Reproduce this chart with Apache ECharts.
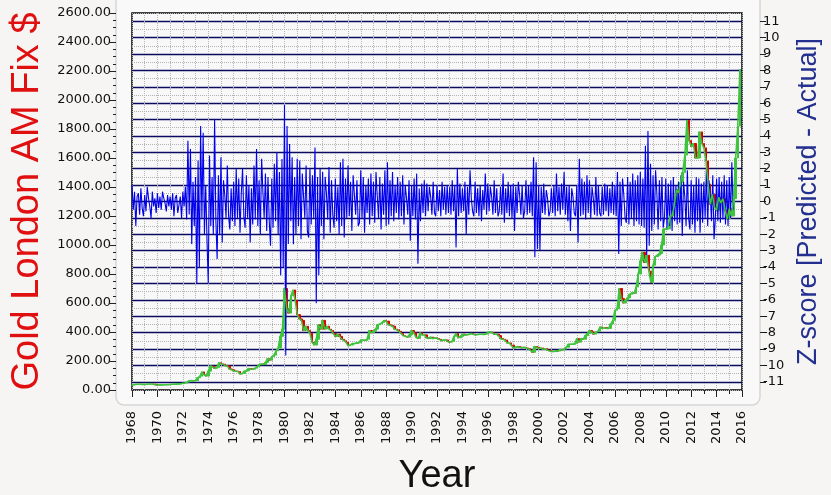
<!DOCTYPE html>
<html>
<head>
<meta charset="utf-8">
<script src="https://cdn.jsdelivr.net/npm/echarts@6/dist/echarts.min.js"></script>
<style>
html, body { margin: 0; padding: 0; background: #f6f5f4; }
#main { width: 831px; height: 495px; }
</style>
</head>
<body>
<div id="main"></div>
<script>
// gold price, 6 readings per year starting 1968.0
var goldStart = 1968;
var goldPerYear = 6;
var gold = [
    35, 37, 39, 39, 39, 38,            // 1968
    38, 40, 41, 41, 40, 36,            // 1969
    35, 35, 35, 36, 36, 37,            // 1970
    38, 39, 40, 41, 42, 43,            // 1971
    46, 48, 54, 64, 65, 63,            // 1972
    65, 84, 95, 125, 105, 96,          // 1973
    130, 165, 160, 150, 155, 188,      // 1974
    180, 178, 167, 165, 145, 140,      // 1975
    131, 130, 127, 110, 114, 130,      // 1976
    132, 148, 145, 143, 150, 160,      // 1977
    173, 180, 176, 190, 215, 205,      // 1978
    230, 240, 270, 290, 370, 420,      // 1979
    700, 560, 530, 650, 690, 620,      // 1980
    520, 490, 480, 410, 440, 410,      // 1981
    390, 330, 310, 350, 450, 420,      // 1982
    480, 420, 440, 420, 410, 390,      // 1983
    370, 385, 370, 350, 340, 330,      // 1984
    305, 310, 320, 320, 325, 325,      // 1985
    345, 345, 342, 350, 410, 395,      // 1986
    405, 420, 450, 455, 465, 480,      // 1987
    475, 450, 445, 440, 420, 415,      // 1988
    405, 390, 375, 370, 365, 380,      // 1989
    410, 395, 365, 355, 395, 380,      // 1990
    380, 360, 355, 365, 355, 360,      // 1991
    355, 350, 340, 345, 345, 335,      // 1992
    330, 335, 370, 390, 360, 370,      // 1993
    385, 380, 380, 385, 390, 385,      // 1994
    380, 382, 385, 385, 383, 385,      // 1995
    400, 400, 395, 385, 385, 375,      // 1996
    355, 350, 345, 325, 325, 310,      // 1997
    290, 295, 300, 295, 290, 295,      // 1998
    290, 285, 275, 260, 300, 295,      // 1999
    285, 290, 280, 285, 275, 270,      // 2000
    265, 265, 270, 268, 280, 275,      // 2001
    282, 295, 315, 315, 315, 320,      // 2002
    355, 330, 355, 350, 375, 390,      // 2003
    410, 400, 385, 400, 405, 435,      // 2004
    425, 430, 425, 425, 455, 480,      // 2005
    550, 560, 700, 630, 600, 620,      // 2006
    635, 660, 670, 665, 710, 800,      // 2007
    890, 950, 880, 930, 820, 740,      // 2008
    860, 920, 930, 940, 1000, 1110,    // 2009
    1110, 1110, 1200, 1200, 1270, 1380,// 2010
    1360, 1430, 1500, 1620, 1860, 1720,// 2011
    1680, 1700, 1600, 1600, 1780, 1700,// 2012
    1670, 1580, 1420, 1280, 1350, 1260,// 2013
    1240, 1330, 1290, 1320, 1240, 1180,// 2014
    1250, 1200, 1320, 1600, 1820, 2210 // 2015
];

// z-score [predicted - actual], 10 readings per year starting 1968.0
var zStart = 1968;
var zPerYear = 10;
var zScore = [
    1.0, -0.5, 0.6, -1.5, 0.3, 0.5, -0.8, 0.8, -0.4, -0.9,     // 1968
    0.4, -0.6, 0.9, 0.2, -0.3, -1.0, 0.6, -0.3, 0.2, -0.7,     // 1969
    0.5, -0.4, 0.3, -0.5, 0.6, 0.2, -0.1, -0.6, 0.4, -0.3,     // 1970
    0.3, -0.5, 0.5, -0.9, 0.2, 0.4, -0.7, -0.6, 0.3, -1.0,     // 1971
    0.6, -0.3, 0.9, -1.1, 3.7, -0.8, 3.2, -2.6, 1.2, -1.5,     // 1972
    1.5, -5.0, 2.5, -4.0, 4.6, -1.0, 4.2, -2.0, 1.0, -2.3,     // 1973
    -5.0, 2.8, -1.5, 1.5, -2.0, 5.0, -1.2, -3.5, 1.6, -2.0,    // 1974
    2.7, -2.5, 1.3, 0.4, -1.0, 2.2, -0.9, -1.7, 0.8, -1.2,     // 1975
    1.2, -1.5, 2.0, -1.0, 1.4, -1.9, 0.5, 2.0, -0.9, -1.6,     // 1976
    1.6, -1.0, 1.0, -2.5, 0.8, -1.4, 2.2, -1.1, 3.2, -1.5,     // 1977
    1.3, -2.0, 2.6, 0.6, -1.0, 1.7, -1.8, 1.5, -1.2, -2.7,     // 1978
    1.4, -1.6, 2.3, -1.2, 3.0, -2.0, 1.8, -4.5, 2.6, -4.0,     // 1979
    5.9, -9.4, 4.6, -2.6, 3.5, -1.2, 2.7, -2.6, 1.5, -2.0,     // 1980
    2.6, -1.5, 2.5, -2.3, 1.7, 0.3, -1.0, 2.2, -1.8, -2.2,     // 1981
    2.0, -1.4, 1.6, -1.0, 3.3, -6.2, 1.5, -4.5, 2.0, -1.5,     // 1982
    1.8, -2.3, 1.5, 0.5, -1.1, 2.1, -1.9, 1.3, -0.8, -1.6,     // 1983
    1.4, -1.2, 0.9, -2.0, 2.4, -1.5, 2.6, -2.2, 1.4, -1.0,     // 1984
    2.2, -0.9, 1.2, -1.8, 1.6, 0.4, -0.8, 1.3, -1.5, -1.3,     // 1985
    1.9, -1.0, 1.5, -1.9, 1.0, -0.7, 1.4, -1.4, 1.7, -0.9,     // 1986
    1.2, -1.3, 1.8, 0.3, -1.0, 1.5, -1.7, 1.1, -0.8, 1.9,      // 1987
    -1.5, 2.4, -1.4, 1.3, -0.9, 1.8, -1.2, 1.0, -0.7, 1.5,     // 1988
    -1.1, 1.2, -0.9, 1.6, -1.4, 1.0, 0.2, -0.8, 1.3, -2.4,     // 1989
    1.0, -0.9, 1.4, -1.1, 1.7, -3.8, 0.8, -1.2, 1.1, -0.7,     // 1990
    1.3, -0.9, 1.1, -0.6, 0.9, 0.3, -0.8, 1.2, -0.7, -0.9,     // 1991
    1.0, -0.6, 0.7, -0.9, 1.2, -0.5, 0.9, -0.8, 1.0, -0.7,     // 1992
    0.9, -0.8, 1.3, -0.6, 1.0, -2.8, 2.0, -0.9, 1.1, -0.7,     // 1993
    0.8, -0.6, 1.2, -2.0, 0.9, -0.8, 1.9, 0.2, -0.6, -0.9,     // 1994
    1.2, -0.7, 0.8, -0.9, 1.0, -1.2, 0.7, -0.5, 1.7, -0.8,     // 1995
    1.1, -0.6, 0.9, 0.3, -0.8, 1.3, -0.7, 0.8, -0.9, -0.6,     // 1996
    0.9, -0.8, 1.7, -1.3, 0.8, -0.7, 1.2, -0.9, 1.0, -1.0,     // 1997
    1.1, -1.8, 0.9, -0.7, 1.2, 0.4, -0.8, 1.0, -1.0, -0.6,     // 1998
    1.3, -0.8, 1.0, -0.7, 1.2, -0.9, 2.7, -3.4, 2.4, -2.9,     // 1999
    1.0, -3.0, 0.9, -0.7, 1.1, -0.8, 0.7, 0.2, -0.9, -0.6,     // 2000
    0.8, -0.7, 1.0, -0.9, 1.7, -0.6, 0.9, -0.8, 1.1, -0.5,     // 2001
    1.8, -0.8, 0.9, -1.2, 1.0, -1.8, 0.8, 0.3, -0.7, -0.9,     // 2002
    1.0, -2.5, 2.6, -0.9, 1.4, -0.8, 1.2, -1.1, 1.6, -0.7,     // 2003
    1.3, -1.0, 0.9, 0.2, -0.8, 1.5, -0.9, 1.0, -0.7, -0.9,     // 2004
    0.9, -0.8, 1.1, -0.6, 1.0, -0.9, 0.8, -0.7, 1.2, -0.8,     // 2005
    1.0, -0.9, 1.8, -3.2, 1.2, -1.5, 1.4, 0.4, -1.0, -1.3,     // 2006
    1.5, -1.4, 1.2, -1.0, 1.7, -1.5, 1.3, -1.2, 1.6, -1.4,     // 2007
    1.8, -1.5, 1.4, -1.6, 3.4, -3.5, 4.3, -2.7, 2.3, -1.8,     // 2008
    1.6, -1.4, 1.9, 0.5, -1.7, 1.3, -1.2, 1.5, -1.6, -1.0,     // 2009
    1.4, -1.7, 1.1, -1.5, 1.3, -1.8, 1.5, -1.2, 1.0, -1.4,     // 2010
    1.2, -1.3, 1.6, -2.1, 1.2, 0.3, -1.5, 1.9, -1.0, -1.7,     // 2011
    1.3, -1.4, 1.0, -1.9, 1.5, -1.2, 1.4, -1.9, 1.1, -1.3,     // 2012
    1.2, -1.0, 2.0, -1.5, 1.3, 0.4, -1.2, 1.6, -2.3, -1.1,     // 2013
    1.4, -1.2, 1.5, -1.3, 1.2, -1.1, 1.6, -1.4, 1.3, -1.5,     // 2014
    1.5, -1.0, 2.4, -0.5                                       // 2015
];

// axis ticks
var zTicks = [-11, -10, -9, -8, -7, -6, -5, -4, -3, -2, -1, 0, 1, 2, 3, 4, 5, 6, 7, 8, 9, 10, 11];
var zHalfTicks = [-11.5, -10.5, -9.5, -8.5, -7.5, -6.5, -5.5, -4.5, -3.5, -2.5, -1.5, -0.5,
    0.5, 1.5, 2.5, 3.5, 4.5, 5.5, 6.5, 7.5, 8.5, 9.5, 10.5, 11.5];

var goldData = gold.map(function (v, i) { return [goldStart + i / goldPerYear, v]; });
var zData = zScore.map(function (v, i) { return [zStart + i / zPerYear, v]; });
// bars between consecutive readings: [x, open, close, low, high]
var candleData = gold.map(function (v, i) {
    var prev = i > 0 ? gold[i - 1] : v;
    return [goldStart + i / goldPerYear, prev, v, Math.min(prev, v), Math.max(prev, v)];
});

var labelFont = { fontFamily: 'DejaVu Sans', fontSize: 13, color: '#111' };

var chart = echarts.init(document.getElementById('main'));
chart.setOption({
    animation: false,
    backgroundColor: '#f6f5f4',
    graphic: [{
        type: 'rect',
        z: -10,
        shape: { x: 116, y: -10, width: 644, height: 415, r: 8 },
        style: { fill: '#f9f9f9', stroke: '#d6d6d6', lineWidth: 1.5 }
    }],
    grid: {
        left: 132, right: 89, top: 13, bottom: 105,
        containLabel: false, outerBoundsMode: 'none',
        show: true, backgroundColor: '#f8f8f8', borderColor: '#000', borderWidth: 1.5
    },
    xAxis: {
        type: 'value', min: 1968, max: 2016, interval: 2,
        offset: 18,
        name: 'Year', nameLocation: 'middle', nameGap: 50,
        nameTextStyle: { fontFamily: 'Liberation Sans', fontSize: 38, color: '#111' },
        axisLine: { show: false },
        axisTick: { show: true, length: 7, lineStyle: { color: '#222' } },
        minorTick: { show: true, splitNumber: 2, length: 4, lineStyle: { color: '#222' } },
        axisLabel: Object.assign({ rotate: 90, margin: 3, formatter: function (v) { return String(v); } }, labelFont),
        splitLine: { show: true, lineStyle: { color: '#b4b4b4', type: 'dotted' } },
        minorSplitLine: { show: true, lineStyle: { color: '#b4b4b4', type: 'dotted' } }
    },
    yAxis: [{
        type: 'value', min: 0, max: 2600, interval: 200,
        position: 'left', offset: 16,
        name: 'Gold London AM Fix $', nameLocation: 'middle', nameGap: 60,
        nameTextStyle: { fontFamily: 'Liberation Sans', fontSize: 38, color: '#e01010' },
        axisLine: { show: false },
        axisTick: { show: true, length: 6, lineStyle: { color: '#222' } },
        minorTick: { show: true, splitNumber: 4, length: 3, lineStyle: { color: '#222' } },
        axisLabel: Object.assign({ margin: 5, formatter: function (v) { return v.toFixed(2); } }, labelFont),
        splitLine: { show: false }
    }, {
        type: 'value', min: -11.5, max: 11.5,
        position: 'right', offset: 18,
        name: 'Z-score [Predicted - Actual]', nameLocation: 'middle', nameGap: 30,
        nameTextStyle: { fontFamily: 'Liberation Sans', fontSize: 27, color: '#23308f' },
        axisLine: { show: false },
        axisTick: { show: true, length: 6, customValues: zTicks, lineStyle: { color: '#222' } },
        axisLabel: Object.assign({ margin: 3, customValues: zTicks }, labelFont),
        splitLine: { show: true, lineStyle: { color: '#0a0a60', width: 1.3 } }
    }, {
        type: 'value', min: -11.5, max: 11.5,
        position: 'right',
        axisLine: { show: false },
        axisTick: { show: false, customValues: zHalfTicks },
        axisLabel: { show: false },
        splitLine: { show: true, lineStyle: { color: '#b4b4b4', type: 'dotted' } }
    }],
    series: [{
        name: 'Z-score',
        type: 'line',
        yAxisIndex: 1,
        data: zData,
        showSymbol: false,
        lineStyle: { color: '#0000ee', width: 1.1 }
    }, {
        name: 'Gold bars',
        type: 'candlestick',
        yAxisIndex: 0,
        data: candleData,
        barWidth: 2,
        itemStyle: { color: '#3ec43e', color0: '#e00000', borderColor: '#3ec43e', borderColor0: '#e00000', borderWidth: 1 }
    }, {
        name: 'Gold',
        type: 'line',
        yAxisIndex: 0,
        data: goldData,
        showSymbol: false,
        lineStyle: { color: '#3ec43e', width: 1.5 }
    }]
});
</script>
</body>
</html>
